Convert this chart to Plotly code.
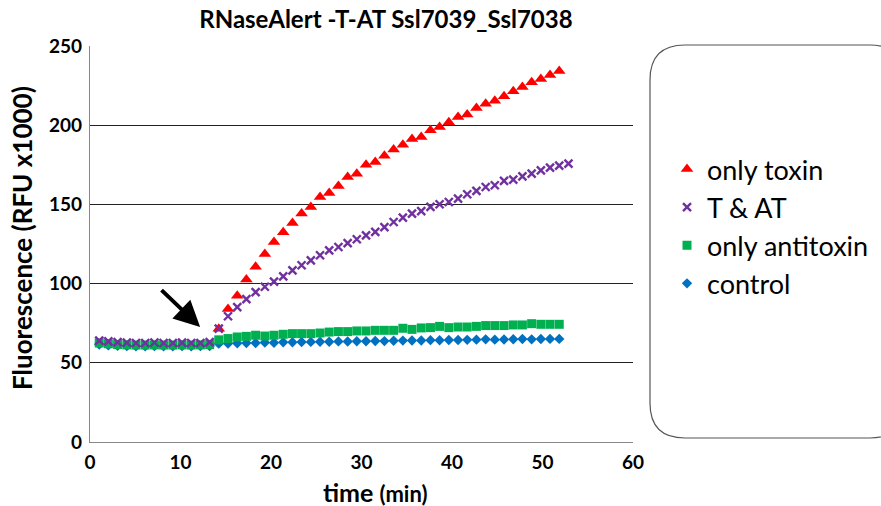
import plotly.graph_objects as go

# sampling times (min)
time = [1.02, 2.03, 3.05, 4.07, 5.08, 6.10, 7.12, 8.13, 9.15, 10.17, 11.18, 12.20, 13.22,
        14.23, 15.25, 16.27, 17.28, 18.30, 19.32, 20.33, 21.35, 22.37, 23.38, 24.40, 25.42,
        26.43, 27.45, 28.47, 29.48, 30.50, 31.52, 32.53, 33.55, 34.57, 35.58, 36.60, 37.62,
        38.63, 39.65, 40.67, 41.68, 42.70, 43.72, 44.73, 45.75, 46.77, 47.78, 48.80, 49.82,
        50.83, 51.85, 52.87]

# only toxin (starts at point 14)
toxin_time = time[13:51]
toxin = [71.5, 84.0, 92.4, 102.6, 110.7, 118.7, 126.3, 132.4, 138.3, 144.2, 148.4, 154.7,
         157.2, 161.6, 167.3, 169.4, 175.1, 176.8, 180.7, 184.7, 187.7, 191.3, 192.6, 196.8,
         198.9, 201.8, 205.2, 206.7, 210.9, 213.6, 215.5, 218.2, 221.4, 224.1, 227.1, 229.2,
         231.7, 234.2]

# T & AT
tat_time = time[:52]
tat = [64.0, 63.5, 63.0, 62.7, 62.5, 62.5, 62.8, 62.5, 62.5, 62.7, 62.5, 62.5, 63.0,
       71.6, 79.4, 85.2, 90.2, 94.6, 98.0, 101.2, 104.6, 108.4, 111.6, 114.7, 117.9, 121.0,
       123.1, 125.6, 128.0, 130.5, 132.6, 135.7, 138.9, 141.7, 144.2, 145.8, 148.4, 150.1,
       151.5, 153.7, 156.4, 158.5, 161.0, 162.1, 164.8, 165.7, 167.7, 169.4, 171.5, 173.2,
       174.5, 175.8]

# only antitoxin
anti_time = time[:51]
anti = [62.5, 62.0, 61.5, 61.3, 61.2, 61.2, 61.3, 61.2, 61.2, 61.3, 61.2, 61.3, 61.5,
        64.5, 65.3, 66.3, 66.7, 67.4, 66.9, 67.4, 68.0, 68.4, 68.4, 68.4, 68.8, 69.4,
        69.7, 69.7, 70.1, 70.1, 70.5, 70.5, 70.5, 71.8, 71.1, 72.0, 72.2, 73.0, 72.2,
        72.6, 72.6, 73.0, 73.5, 73.5, 73.5, 73.9, 73.9, 74.7, 74.3, 74.3, 74.3]

# control
ctrl_time = time[:51]
ctrl = [61.5, 61.0, 60.7, 60.5, 60.4, 60.4, 60.5, 60.4, 60.4, 60.5, 60.4, 60.5, 60.6,
        62.1, 62.2, 62.3, 62.5, 62.5, 62.8, 62.7, 63.0, 63.0, 63.1, 63.2, 63.3, 63.3,
        63.5, 63.4, 63.6, 63.6, 63.8, 63.7, 63.9, 64.0, 64.1, 64.1, 64.3, 64.2, 64.4,
        64.4, 64.5, 64.6, 64.8, 64.6, 64.7, 64.9, 65.0, 64.8, 65.0, 65.1, 65.1]

x_ticks = [0, 10, 20, 30, 40, 50, 60]
y_ticks = [0, 50, 100, 150, 200, 250]

FONT = "Lato"
FW, FH = 881, 506

fig = go.Figure()
fig.add_trace(go.Scatter(x=ctrl_time, y=ctrl, mode="markers", name="control",
                         legendrank=4, legendgroup="d",
                         marker=dict(symbol="diamond", size=8, color="#0070C0")))
fig.add_trace(go.Scatter(x=anti_time, y=anti, mode="markers", name="only antitoxin",
                         legendrank=3, legendgroup="c",
                         marker=dict(symbol="square", size=9, color="#00B050")))
fig.add_trace(go.Scatter(x=toxin_time, y=toxin, mode="markers", name="only toxin",
                         legendrank=1, legendgroup="a",
                         marker=dict(symbol="triangle-up", size=11, color="#FF0000")))
fig.add_trace(go.Scatter(x=tat_time, y=tat, mode="markers", name="T & AT",
                         legendrank=2, legendgroup="b",
                         marker=dict(symbol="x-thin", size=8, color="#7030A0",
                                     line=dict(width=2.4, color="#7030A0"))))

# rounded legend frame (paper coords)
L, R, T, B = 90, 633, 46, 442
W, H = R - L, B - T
def px(x): return (x - L) / W
def py(y): return (B - y) / H
bl, br, bt, bb, rad = 650, 905, 45, 438, 35
rx, ry = rad / W, rad / H
l, r, t, b = px(bl), px(br), py(bt), py(bb)
path = (f"M {l+rx},{t} L {r-rx},{t} Q {r},{t} {r},{t-ry} L {r},{b+ry} Q {r},{b} {r-rx},{b} "
        f"L {l+rx},{b} Q {l},{b} {l},{b+ry} L {l},{t-ry} Q {l},{t} {l+rx},{t} Z")
fig.add_shape(type="path", xref="paper", yref="paper", path=path,
              line=dict(color="#555555", width=1.2))

fig.add_annotation(x=12.17, y=72.6, ax=7.74, ay=96.8, xref="x", yref="y",
                   axref="x", ayref="y", showarrow=True, arrowhead=2, arrowsize=1.3,
                   arrowwidth=4, arrowcolor="black", text="")

# axis titles as annotations for exact placement
fig.add_annotation(text="<b>Fluorescence (RFU x1000)</b>", textangle=-90,
                   xref="paper", yref="paper", x=px(22), y=py(238),
                   xanchor="center", yanchor="middle", showarrow=False,
                   font=dict(family=FONT, size=26, color="black"))
fig.add_annotation(text="<b>time <span style='font-size:22px'>(min)</span></b>",
                   xref="paper", yref="paper", x=px(375), y=py(492),
                   xanchor="center", yanchor="middle", showarrow=False,
                   font=dict(family=FONT, size=25, color="black"))

fig.update_layout(
    width=FW, height=FH,
    margin=dict(l=L, r=FW - R, t=T, b=FH - B),
    paper_bgcolor="white", plot_bgcolor="white",
    font=dict(family=FONT, color="black"),
    title=dict(text="<b>RNaseAlert -T-AT Ssl7039_Ssl7038</b>", x=0.545, xref="paper",
               xanchor="center", y=1 - 20 / FH, yanchor="middle",
               font=dict(family=FONT, size=24, color="black")),
    showlegend=True,
    legend=dict(xref="container", yref="container", x=667 / FW, xanchor="left",
                y=1 - 145 / FH, yanchor="top",
                bgcolor="rgba(0,0,0,0)", borderwidth=0, traceorder="grouped",
                tracegroupgap=0,
                font=dict(family=FONT, size=27, color="black"),
                itemsizing="trace"),
    xaxis=dict(range=[0, 60], tickvals=x_ticks, ticktext=[str(v) for v in x_ticks],
               showgrid=False, zeroline=False, showline=True, linecolor="#888888",
               linewidth=1.3, ticks="", ticklabelstandoff=3, automargin=False,
               tickfont=dict(family=FONT, size=19, color="black", weight="bold")),
    yaxis=dict(range=[0, 250], tickvals=y_ticks, ticktext=[str(v) for v in y_ticks],
               showgrid=True, gridcolor="#222222", gridwidth=1.3, zeroline=False,
               showline=True, linecolor="#888888", linewidth=1.3, ticks="",
               ticklabelstandoff=3, automargin=False,
               tickfont=dict(family=FONT, size=19, color="black", weight="bold")),
)

fig.write_html("out.html", config={"displayModeBar": False},
               post_script="document.body.style.margin='0';")
